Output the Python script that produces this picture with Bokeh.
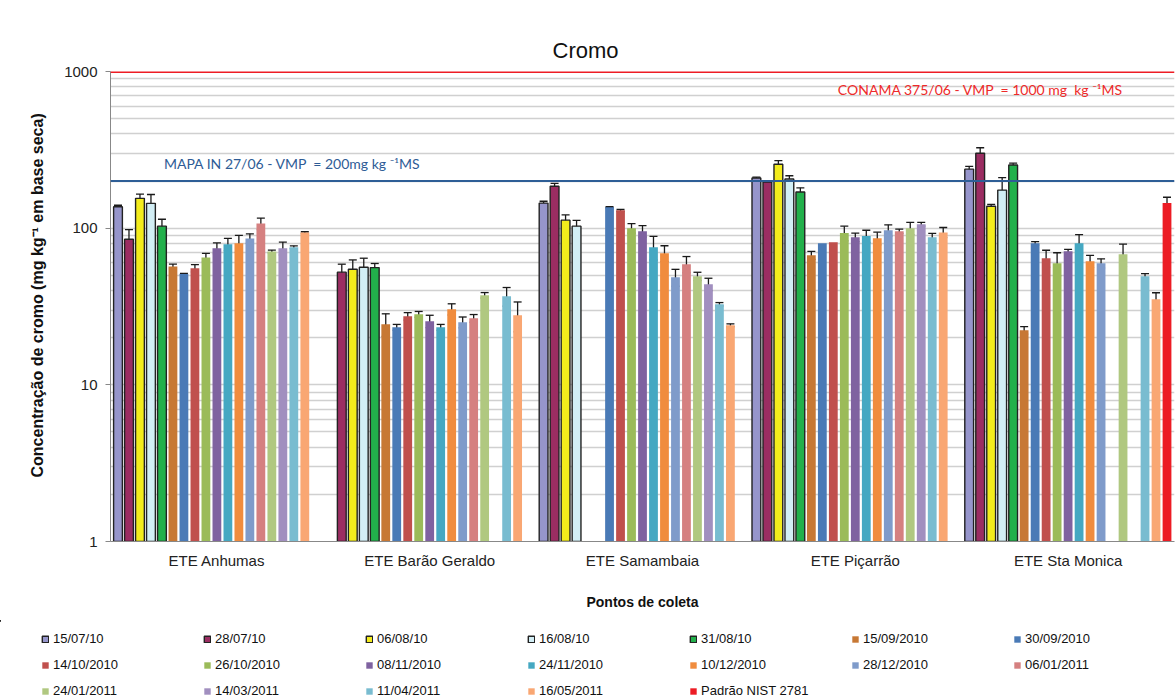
import math
from bokeh.plotting import figure
from bokeh.models import (ColumnDataSource, Whisker, TeeHead, Span, FixedTicker,
                          Legend, LegendItem, Title, Label, NumeralTickFormatter)
from bokeh.embed import file_html
from bokeh.resources import INLINE

nan = float("nan")

groups = ["ETE Anhumas", "ETE Barão Geraldo", "ETE Samambaia", "ETE Piçarrão", "ETE Sta Monica"]

series = ["15/07/10", "28/07/10", "06/08/10", "16/08/10", "31/08/10", "15/09/2010",
          "30/09/2010", "14/10/2010", "26/10/2010", "08/11/2010", "24/11/2010",
          "10/12/2010", "28/12/2010", "06/01/2011", "24/01/2011", "14/03/2011",
          "11/04/2011", "16/05/2011", "Padrão NIST 2781"]

colors = ["#9695CB", "#9B2D62", "#F3EC1C", "#D2EEF5", "#22B04B", "#C77834",
          "#4A7AB6", "#C0504D", "#9BBB59", "#7F62A0", "#45A8C2",
          "#F08C3E", "#7F9BCA", "#D58080", "#B0C880", "#A18FBF",
          "#79BCD0", "#F9A773", "#EC1C24"]

# values per group, one entry per series (nan = not sampled)
anhumas       = [137, 85, 155, 144, 103, 57, 51, 55.5, 65, 74.5, 79, 80, 86, 107, 71, 74.5, 75.6, 94, nan]
anhumas_err   = [3, 13, 10, 20, 11, 2, 0.5, 3, 4, 6, 7, 10, 6, 9, 1.5, 7, 1.5, 1, nan]
barao         = [nan, 52.4, 54.7, 56.3, 56, 24.4, 23.3, 27.4, 28.2, 25.5, 23.3, 30.4, 25.1, 26.6, 37.3, nan, 36.8, 27.8, nan]
barao_err     = [nan, 6.5, 8, 8, 3.5, 4, 1, 1.5, 1.2, 2.3, 1, 2.5, 2, 1.5, 1.5, nan, 5, 6, nan]
samambaia     = [144.5, 185, 112.5, 103, nan, nan, 136, 130, 100, 95.7, 75.6, 69.2, 48.6, 58.9, 49.3, 43.9, 32.7, 24, nan]
samambaia_err = [4, 8, 9, 9, nan, nan, 1, 2, 7, 8, 13, 8, 6, 7, 3, 4, 0.8, 0.5, nan]
picarrao      = [209, 197, 256, 206, 170, 67.2, 80.2, 81.4, 93, 87.6, 89, 86.3, 97, 95.7, 100, 106, 87.6, 94, nan]
picarrao_err  = [3, 2, 14, 10, 11, 4, 0, 0, 10, 5.5, 8, 8, 8, 3, 9, 3, 5, 7, nan]
stamonica     = [238, 301, 138, 175, 253, 22.3, 80, 64.3, 59.7, 71.3, 80, 61.5, 59.7, nan, 68.2, nan, 49.3, 35.2, 144.5]
stamonica_err = [10, 25, 4, 35, 7, 1.2, 2, 8, 10, 2, 11, 5.5, 4, nan, 11, nan, 2, 3.5, 13]

limit_mapa = 200
limit_conama = 1000
yticks = [1, 10, 100, 1000]

group_vals = [anhumas, barao, samambaia, picarrao, stamonica]
group_errs = [anhumas_err, barao_err, samambaia_err, picarrao_err, stamonica_err]

n = len(series)
slot = 11.0 / 213.0
bar_w = slot * 0.8

p = figure(width=1176, height=620, x_range=(-0.5, 4.5), y_range=(1, 1000),
           y_axis_type="log", output_backend="svg", toolbar_location=None,
           min_border_left=110, min_border_right=2, min_border_top=71,
           min_border_bottom=79)
p.outline_line_color = None
p.background_fill_color = "white"
p.border_fill_color = "white"

t = Title(text="Cromo", align="left", offset=442, standoff=18,
          text_font="Liberation Sans", text_font_size="22px",
          text_font_style="normal", text_color="#111111")
p.add_layout(t, "above")

# grid
p.ygrid.grid_line_color = "#D0D0D0"
p.ygrid.grid_line_width = 1.5
p.ygrid.minor_grid_line_color = "#D0D0D0"
p.ygrid.minor_grid_line_width = 1.5
p.xgrid.grid_line_color = None

minor = [m * d for d in (1, 10, 100) for m in range(2, 10)]
p.yaxis.ticker = FixedTicker(ticks=yticks, minor_ticks=minor)
p.yaxis.formatter = NumeralTickFormatter(format="0")
p.yaxis.minor_tick_line_color = None
p.yaxis.major_tick_line_color = "#888888"
p.yaxis.major_tick_out = 5
p.yaxis.major_tick_in = 0
p.yaxis.axis_line_color = "#888888"
p.yaxis.major_label_text_font = "Liberation Sans"
p.yaxis.major_label_text_font_size = "15px"
p.yaxis.major_label_text_color = "#222222"
p.yaxis.major_label_standoff = 8
p.yaxis.axis_label = "\u00a0" * 7 + "Concentração de cromo (mg  kg⁻¹ em  base seca)"
p.yaxis.axis_label_text_font = "Liberation Sans"
p.yaxis.axis_label_text_font_size = "16px"
p.yaxis.axis_label_text_font_style = "bold"
p.yaxis.axis_label_text_color = "#111111"
p.yaxis.axis_label_standoff = 15

p.xaxis.ticker = FixedTicker(ticks=list(range(len(groups))))
p.xaxis.major_label_overrides = {i: g for i, g in enumerate(groups)}
p.xaxis.major_tick_line_color = None
p.xaxis.minor_tick_line_color = None
p.xaxis.axis_line_color = "#888888"
p.xaxis.major_label_text_font = "Liberation Sans"
p.xaxis.major_label_text_font_size = "15px"
p.xaxis.major_label_text_color = "#222222"
p.xaxis.major_label_standoff = 4
p.xaxis.axis_label = "Pontos de coleta"
p.xaxis.axis_label_text_font = "Liberation Sans"
p.xaxis.axis_label_text_font_size = "14px"
p.xaxis.axis_label_text_font_style = "bold"
p.xaxis.axis_label_text_color = "#111111"
p.xaxis.axis_label_standoff = 22

# legend-only strip under the chart (its data range is empty of marks)
leg = figure(width=1176, height=79, x_range=(100, 101), y_range=(0, 1),
             output_backend="svg", toolbar_location=None,
             x_axis_location=None, y_axis_location=None,
             min_border_left=0, min_border_right=0, min_border_top=0,
             min_border_bottom=0)
leg.outline_line_color = None
leg.xgrid.visible = False
leg.ygrid.visible = False

legend_renderers = []
wx, wu, wl = [], [], []
for j in range(n):
    xs, tops = [], []
    for g in range(len(groups)):
        v = group_vals[g][j]
        if math.isnan(v):
            continue
        x = g + (j - (n - 1) / 2.0) * slot
        xs.append(x)
        tops.append(v)
        e = group_errs[g][j]
        if not math.isnan(e) and e > 0:
            wx.append(x)
            wu.append(v + e)
            wl.append(v - e)
    src = ColumnDataSource(dict(x=xs, top=tops))
    if j < 5:
        lc, lw = "#222222", 1.4
    else:
        lc, lw = None, 0
    p.vbar(x="x", top="top", bottom=1, width=bar_w, source=src,
           fill_color=colors[j], line_color=lc, line_width=lw)
    lr = leg.vbar(x="x", top="top", bottom=1, width=bar_w, source=src,
                  fill_color=colors[j], line_color=lc, line_width=lw)
    legend_renderers.append(lr)

wsrc = ColumnDataSource(dict(x=wx, upper=wu, lower=wl))
whisk = Whisker(source=wsrc, base="x", upper="upper", lower="lower",
                line_color="#1a1a1a", line_width=1.3,
                upper_head=TeeHead(size=8, line_color="#1a1a1a", line_width=1.3),
                lower_head=TeeHead(size=8, line_color="#1a1a1a", line_width=1.3))
p.add_layout(whisk)

p.add_layout(Span(location=limit_mapa, dimension="width", line_color="#2E5E96", line_width=2))
p.add_layout(Span(location=limit_conama, dimension="width", line_color="#EE1C24", line_width=3))

p.add_layout(Label(x=-0.249, y=260, text="MAPA IN 27/06 - VMP \u00a0= 200mg kg \u207b\u00b9MS",
                   text_font="Lato", text_font_size="14px", text_color="#2E5C96",
                   text_baseline="middle"))
p.add_layout(Label(x=2.918, y=773, text="CONAMA 375/06 - VMP \u00a0= 1000 mg \u00a0kg \u207b\u00b9MS",
                   text_font="Lato", text_font_size="14px", text_color="#EE2A2A",
                   text_baseline="middle"))

items = [LegendItem(label=series[j], renderers=[legend_renderers[j]]) for j in range(n)]
legend = Legend(items=items, location=(41, 1), orientation="horizontal", ncols=7,
                glyph_width=8, glyph_height=8, label_width=139, label_height=14,
                label_standoff=4, spacing=11, padding=0, margin=0,
                border_line_color=None, background_fill_alpha=0,
                label_text_font="Liberation Sans", label_text_font_size="13px",
                label_text_color="#111111")
leg.add_layout(legend, "center")

open("out.html", "w").write(file_html([p, leg], INLINE))
